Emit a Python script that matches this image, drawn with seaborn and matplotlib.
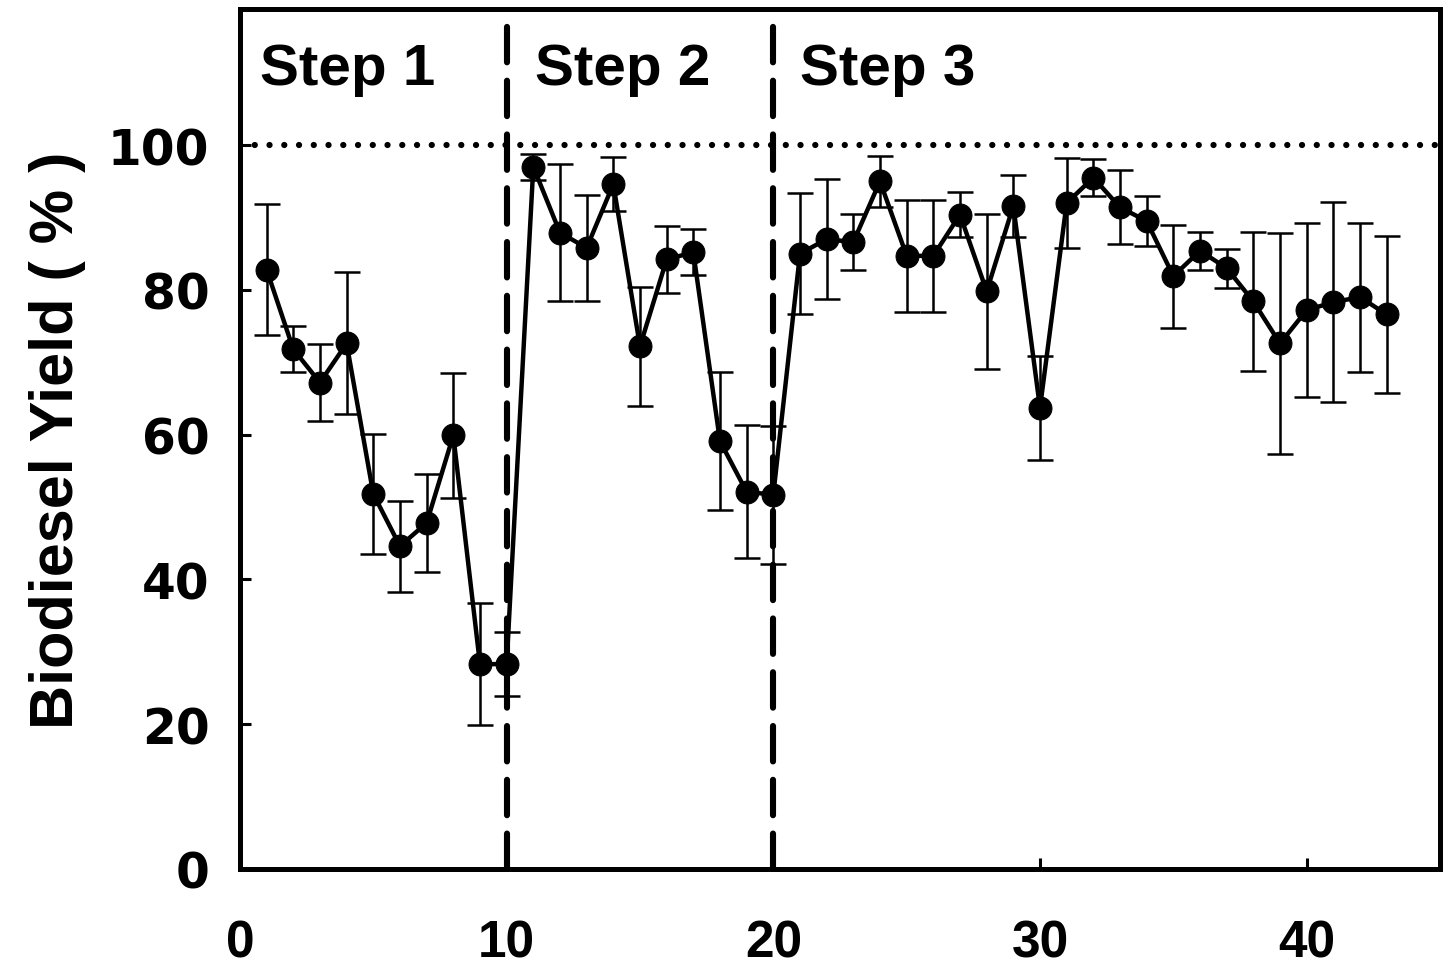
import numpy as np
import pandas as pd
import matplotlib
matplotlib.use("Agg")
import matplotlib.pyplot as plt
import seaborn as sns

# dados
ciclos = list(range(1, 44))
rendimento = [82.8, 71.8, 67.2, 72.6, 51.8, 44.6, 47.8, 59.9, 28.3, 28.3,
              97.0, 87.9, 85.8, 94.6, 72.2, 84.2, 85.2, 59.1, 52.1, 51.7,
              85.0, 87.0, 86.6, 95.0, 84.7, 84.7, 90.4, 79.8, 91.6, 63.7,
              92.0, 95.5, 91.4, 89.5, 81.9, 85.4, 83.0, 78.4, 72.6, 77.2,
              78.3, 79.0, 76.6]
erro = [9.0, 3.2, 5.3, 9.8, 8.3, 6.3, 6.8, 8.6, 8.4, 4.4,
        1.8, 9.5, 7.3, 3.7, 8.2, 4.6, 3.2, 9.5, 9.2, 9.5,
        8.4, 8.3, 3.9, 3.5, 7.7, 7.7, 3.1, 10.7, 4.3, 7.2,
        6.2, 2.6, 5.1, 3.4, 7.1, 2.6, 2.7, 9.6, 15.3, 12.0,
        13.8, 10.3, 10.8]
etapas = ["Step 1", "Step 2", "Step 3"]
inicio_etapas = [0.75, 11.05, 21.0]
limites_etapas = [10, 20]
xticks = [0, 10, 20, 30, 40]
yticks = [0, 20, 40, 60, 80, 100]

df = pd.DataFrame({"ciclo": ciclos, "rendimento": rendimento, "erro": erro})

sns.set_style("ticks")
plt.rcParams["font.family"] = ["Liberation Sans", "DejaVu Sans"]
plt.rcParams["text.color"] = "black"
plt.rcParams["axes.labelcolor"] = "black"
plt.rcParams["xtick.color"] = "black"
plt.rcParams["ytick.color"] = "black"

fig = plt.figure(figsize=(14.49, 9.70), dpi=100)
ax = fig.add_axes([0.1656, 0.1031, 0.8282, 0.8866])

ax.errorbar(df["ciclo"], df["rendimento"], yerr=df["erro"], fmt="none",
            ecolor="black", elinewidth=1.8, capsize=9.5, capthick=1.8, zorder=2)
sns.lineplot(data=df, x="ciclo", y="rendimento", ax=ax, color="black",
             linewidth=3.2, marker="o", markersize=16.5, markeredgecolor="black",
             markerfacecolor="black", zorder=3)

for lim in limites_etapas:
    ax.axvline(lim, color="black", lw=4.4, ls=(0, (5.8, 3.0)),
               dash_capstyle="round", zorder=1)
ax.axhline(100, color="black", lw=4.5, ls=(0, (0.01, 2.35)),
           dash_capstyle="round", zorder=1)

for nome, x0 in zip(etapas, inicio_etapas):
    ax.text(x0, 110.5, nome, fontsize=42, fontweight="bold", va="center",
            ha="left", color="black", family="Liberation Sans")

ax.set_xlim(0, 45)
ax.set_ylim(0, 118.8)
ax.set_xticks(xticks)
ax.set_yticks(yticks)
ax.set_xticklabels([str(t) for t in xticks], fontsize=37, fontweight="bold",
                   family="Liberation Sans")
ax.set_yticklabels([str(t) for t in yticks], fontsize=35, fontweight="bold",
                   family="DejaVu Sans")
ax.tick_params(direction="in", length=8, width=2.2, color="black", labelcolor="black")
ax.tick_params(axis="x", pad=36)
ax.tick_params(axis="y", pad=22)
ax.set_xlabel("")
ax.set_ylabel("Biodiesel Yield ( % )", fontsize=44, fontweight="bold",
              color="black", family="Liberation Sans", labelpad=16)

for s in ax.spines.values():
    s.set_linewidth(3.6)
    s.set_color("black")

fig.savefig("out.png", dpi=100)
